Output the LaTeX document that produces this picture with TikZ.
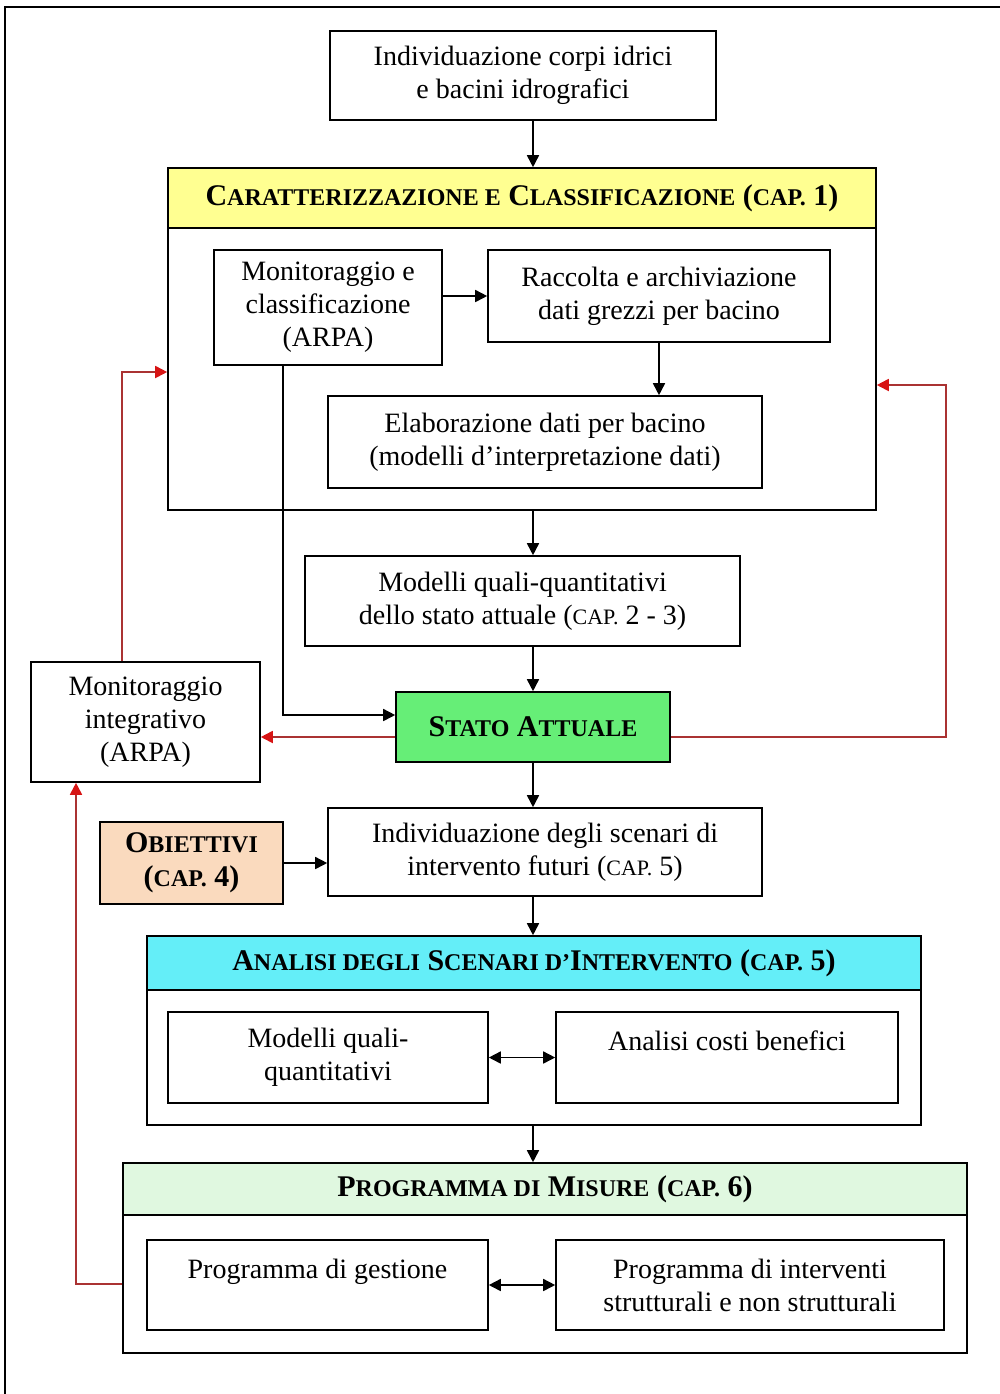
\documentclass[tikz,border=0pt]{standalone}
\usepackage{fontspec}
\setmainfont{Liberation Serif}
\usetikzlibrary{arrows.meta}
\definecolor{hdyellow}{RGB}{255,255,145}
\definecolor{statogreen}{RGB}{102,238,119}
\definecolor{hdcyan}{RGB}{100,238,248}
\definecolor{peach}{RGB}{250,218,190}
\definecolor{hdgreen}{RGB}{224,248,224}
\definecolor{redline}{RGB}{170,50,50}
\definecolor{redtip}{RGB}{215,20,20}
\newcommand\scs{\fontsize{12}{14}\selectfont}
\newcommand\scn{\fontsize{11}{14}\selectfont}
\begin{document}
\begin{tikzpicture}[x=0.5pt,y=-0.5pt,
  box/.style={draw,line width=0.8pt,align=center,inner sep=0pt,font=\fontsize{14}{16.5}\selectfont},
  hdbox/.style={box,font=\fontsize{15}{17}\selectfont\bfseries},
  arr/.style={-{Triangle[length=6pt,width=6pt]},line width=0.8pt},
  arrb/.style={{Triangle[length=6pt,width=6pt]}-{Triangle[length=6pt,width=6pt]},line width=0.8pt},
  rarr/.style={-{Triangle[length=6pt,width=6pt,color=redtip]},line width=0.9pt,draw=redline}]
\useasboundingbox (0,0) rectangle (1000,1394);
\draw[line width=0.8pt] (5,1394) -- (5,7) -- (1000,7);
\node[box,minimum width=193pt,minimum height=44.5pt] (top) at (523,75.5) {Individuazione corpi idrici\\e bacini idrografici};
\node[hdbox,fill=hdyellow,minimum width=354pt,minimum height=30pt] (carah) at (522,198) {C{\scs ARATTERIZZAZIONE E} C{\scs LASSIFICAZIONE} ({\scs CAP.} 1)};
\node[box,minimum width=354pt,minimum height=141pt] (carab) at (522,369) {};
\node[box,minimum width=114pt,minimum height=57.5pt] (monit) at (328,307.5) {Monitoraggio e\\classificazione\\(ARPA)};
\node[box,minimum width=171pt,minimum height=46pt] (racc) at (659,296) {Raccolta e archiviazione\\dati grezzi per bacino};
\node[box,minimum width=217pt,minimum height=46pt] (elab) at (545,442) {Elaborazione dati per bacino\\(modelli d’interpretazione dati)};
\node[box,minimum width=217.5pt,minimum height=45pt] (mqq) at (522.5,601) {Modelli quali-quantitativi\\dello stato attuale ({\scn CAP.} 2 - 3)};
\node[hdbox,fill=statogreen,minimum width=137pt,minimum height=35pt] (stato) at (533,727) {S{\scs TATO} A{\scs TTUALE}};
\node[box,minimum width=114.5pt,minimum height=60pt] (monint) at (145.5,722) {Monitoraggio\\integrativo\\(ARPA)};
\node[box,minimum width=217pt,minimum height=44pt] (scen) at (545,852) {Individuazione degli scenari di\\intervento futuri ({\scn CAP.} 5)};
\node[hdbox,fill=peach,minimum width=91.5pt,minimum height=41pt] (obiet) at (191.5,863) {O{\scs BIETTIVI}\\({\scs CAP.} 4)};
\node[hdbox,fill=hdcyan,minimum width=387pt,minimum height=27pt] (anah) at (534,963) {A{\scs NALISI DEGLI} S{\scs CENARI D'}I{\scs NTERVENTO} ({\scs CAP.} 5)};
\node[box,minimum width=387pt,minimum height=67.5pt] (anab) at (534,1057.5) {};
\node[box,minimum width=160pt,minimum height=45.5pt] (modq) at (328,1057.5) {Modelli quali-\\quantitativi};
\node[box,minimum width=171pt,minimum height=45.5pt] (acb) at (727,1057.5) {Analisi costi benefici\\ \mbox{}};
\node[hdbox,fill=hdgreen,minimum width=422pt,minimum height=26pt] (progh) at (545,1189) {P{\scs ROGRAMMA DI} M{\scs ISURE} ({\scs CAP.} 6)};
\node[box,minimum width=422pt,minimum height=69pt] (progb) at (545,1284) {};
\node[box,minimum width=170.5pt,minimum height=45pt] (pgest) at (317.5,1285) {Programma di gestione\\ \mbox{}};
\node[box,minimum width=194pt,minimum height=45pt] (pint) at (750,1285) {Programma di interventi\\strutturali e non strutturali};
\draw[arr] (top.south -| stato.north) -- (carah.north -| stato.north);
\draw[arr] (monit.east |- racc.west) -- (racc.west);
\draw[arr] (racc.south) -- (racc.south |- elab.north);
\draw[arr] (carab.south -| stato.north) -- (mqq.north -| stato.north);
\draw[arr] (mqq.south -| stato.north) -- (stato.north);
\draw[arr] ([xshift=-22.5pt]monit.south) |- ([yshift=6pt]stato.west);
\draw[rarr] ([yshift=-5pt]stato.west) -- ([yshift=-5pt]stato.west -| monint.east);
\draw[rarr] ([xshift=-11.75pt]monint.north) |- ([yshift=-1.5pt]carab.west);
\draw[rarr] ([yshift=-5pt]stato.east) -- ++(275,0) |- ([yshift=-8pt]carab.east);
\draw[arr] (stato.south) -- (scen.north -| stato.south);
\draw[arr] (obiet.east) -- (obiet.east -| scen.west);
\draw[arr] (scen.south -| stato.south) -- (anah.north -| stato.south);
\draw[arrb] (modq.east) -- (acb.west);
\draw[arr] (anab.south -| stato.south) -- (progh.north -| stato.south);
\draw[arrb] (pgest.east) -- (pint.west);
\draw[rarr] (progb.west) -| ([xshift=-34.75pt]monint.south);
\end{tikzpicture}
\end{document}
